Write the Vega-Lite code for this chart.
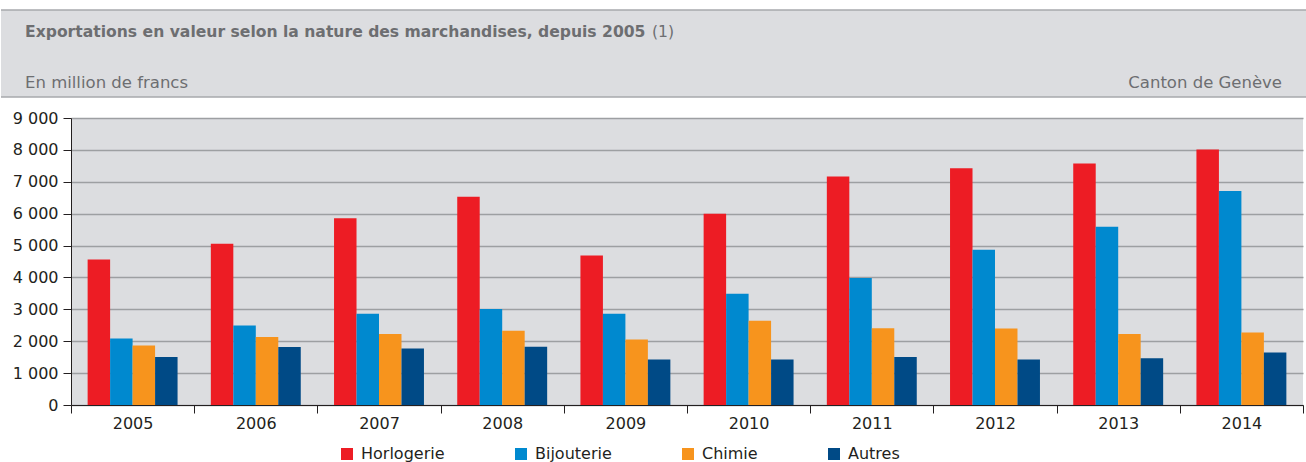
{
  "$schema": "https://vega.github.io/schema/vega-lite/v6.json",
  "padding": {"top": 9, "left": 0, "right": 0, "bottom": 0},
  "autosize": {"type": "pad"},
  "background": "white",
  "spacing": 12,
  "config": {
    "font": "DejaVu Sans",
    "view": {"stroke": null}
  },
  "vconcat": [
    {
      "width": 1236,
      "height": 87,
      "data": {"values": [{"titre": "Exportations en valeur selon la nature des marchandises, depuis 2005", "note": "(1)", "unite": "En million de francs", "canton": "Canton de Genève"}]},
      "layer": [
        {
          "mark": {"type": "rect", "color": "#dcdde0"},
          "encoding": {
            "x": {"datum": -0.05663, "type": "quantitative", "scale": {"domain": [0, 1], "nice": false, "zero": false}, "axis": null},
            "x2": {"datum": 1},
            "y": {"datum": 0, "type": "quantitative", "scale": {"domain": [0, 1], "nice": false}, "axis": null},
            "y2": {"datum": 1}
          }
        },
        {
          "mark": {"type": "rule", "color": "#a7a9ac", "strokeWidth": 1.5},
          "encoding": {
            "x": {"datum": -0.05663, "type": "quantitative", "axis": null},
            "x2": {"datum": 1},
            "y": {"datum": 1, "type": "quantitative", "axis": null}
          }
        },
        {
          "mark": {"type": "rule", "color": "#a7a9ac", "strokeWidth": 1.5},
          "encoding": {
            "x": {"datum": -0.05663, "type": "quantitative", "axis": null},
            "x2": {"datum": 1},
            "y": {"datum": 0, "type": "quantitative", "axis": null}
          }
        },
        {
          "mark": {"type": "text", "align": "left", "baseline": "alphabetic", "fontWeight": "bold", "fontSize": 15.6, "color": "#6d6e71", "dx": 24},
          "encoding": {
            "text": {"field": "titre"},
            "x": {"datum": -0.05663, "type": "quantitative", "axis": null},
            "y": {"datum": 0.69, "type": "quantitative", "axis": null}
          }
        },
        {
          "mark": {"type": "text", "align": "left", "baseline": "alphabetic", "fontSize": 15.6, "color": "#6d6e71", "dx": 651},
          "encoding": {
            "text": {"field": "note"},
            "x": {"datum": -0.05663, "type": "quantitative", "axis": null},
            "y": {"datum": 0.69, "type": "quantitative", "axis": null}
          }
        },
        {
          "mark": {"type": "text", "align": "left", "baseline": "alphabetic", "fontSize": 16.5, "color": "#6d6e71", "dx": 24},
          "encoding": {
            "text": {"field": "unite"},
            "x": {"datum": -0.05663, "type": "quantitative", "axis": null},
            "y": {"datum": 0.1, "type": "quantitative", "axis": null}
          }
        },
        {
          "mark": {"type": "text", "align": "right", "baseline": "alphabetic", "fontSize": 16.5, "color": "#6d6e71", "dx": -25},
          "encoding": {
            "text": {"field": "canton"},
            "x": {"datum": 1, "type": "quantitative", "axis": null},
            "y": {"datum": 0.1, "type": "quantitative", "axis": null}
          }
        }
      ]
    },
    {
      "width": 1232,
      "height": 287,
      "view": {"fill": "#dcdde0", "stroke": null},
      "data": {"values": [
        {"annee": "2005", "nature": "Horlogerie", "valeur": 4565},
        {"annee": "2005", "nature": "Bijouterie", "valeur": 2084},
        {"annee": "2005", "nature": "Chimie", "valeur": 1864},
        {"annee": "2005", "nature": "Autres", "valeur": 1508},
        {"annee": "2006", "nature": "Horlogerie", "valeur": 5058},
        {"annee": "2006", "nature": "Bijouterie", "valeur": 2492},
        {"annee": "2006", "nature": "Chimie", "valeur": 2136},
        {"annee": "2006", "nature": "Autres", "valeur": 1822},
        {"annee": "2007", "nature": "Horlogerie", "valeur": 5853},
        {"annee": "2007", "nature": "Bijouterie", "valeur": 2859},
        {"annee": "2007", "nature": "Chimie", "valeur": 2230},
        {"annee": "2007", "nature": "Autres", "valeur": 1770},
        {"annee": "2008", "nature": "Horlogerie", "valeur": 6534},
        {"annee": "2008", "nature": "Bijouterie", "valeur": 3010},
        {"annee": "2008", "nature": "Chimie", "valeur": 2330},
        {"annee": "2008", "nature": "Autres", "valeur": 1825},
        {"annee": "2009", "nature": "Horlogerie", "valeur": 4691},
        {"annee": "2009", "nature": "Bijouterie", "valeur": 2859},
        {"annee": "2009", "nature": "Chimie", "valeur": 2052},
        {"annee": "2009", "nature": "Autres", "valeur": 1424},
        {"annee": "2010", "nature": "Horlogerie", "valeur": 6000},
        {"annee": "2010", "nature": "Bijouterie", "valeur": 3487},
        {"annee": "2010", "nature": "Chimie", "valeur": 2639},
        {"annee": "2010", "nature": "Autres", "valeur": 1424},
        {"annee": "2011", "nature": "Horlogerie", "valeur": 7162},
        {"annee": "2011", "nature": "Bijouterie", "valeur": 3979},
        {"annee": "2011", "nature": "Chimie", "valeur": 2408},
        {"annee": "2011", "nature": "Autres", "valeur": 1508},
        {"annee": "2012", "nature": "Horlogerie", "valeur": 7424},
        {"annee": "2012", "nature": "Bijouterie", "valeur": 4869},
        {"annee": "2012", "nature": "Chimie", "valeur": 2398},
        {"annee": "2012", "nature": "Autres", "valeur": 1424},
        {"annee": "2013", "nature": "Horlogerie", "valeur": 7571},
        {"annee": "2013", "nature": "Bijouterie", "valeur": 5592},
        {"annee": "2013", "nature": "Chimie", "valeur": 2230},
        {"annee": "2013", "nature": "Autres", "valeur": 1466},
        {"annee": "2014", "nature": "Horlogerie", "valeur": 8010},
        {"annee": "2014", "nature": "Bijouterie", "valeur": 6712},
        {"annee": "2014", "nature": "Chimie", "valeur": 2272},
        {"annee": "2014", "nature": "Autres", "valeur": 1644}
      ]},
      "mark": {"type": "bar"},
      "encoding": {
        "x": {
          "field": "annee", "type": "nominal",
          "scale": {"paddingInner": 0, "paddingOuter": 0},
          "axis": {"title": null, "labelAngle": 0, "tickBand": "extent", "tickSize": 8, "tickColor": "#231f20", "domainColor": "#231f20", "labelFontSize": 16, "labelColor": "#231f20", "labelPadding": 2, "grid": false}
        },
        "xOffset": {
          "field": "nature", "type": "nominal",
          "sort": ["Horlogerie", "Bijouterie", "Chimie", "Autres"],
          "scale": {"paddingInner": 0, "paddingOuter": 0.74}
        },
        "y": {
          "field": "valeur", "type": "quantitative",
          "scale": {"domain": [0, 9000], "nice": false},
          "axis": {"title": null, "values": [0, 1000, 2000, 3000, 4000, 5000, 6000, 7000, 8000, 9000], "labelExpr": "replace(format(datum.value, ','), ',', ' ')", "tickSize": 8, "tickColor": "#231f20", "domainColor": "#231f20", "labelFontSize": 16, "labelColor": "#231f20", "labelPadding": 5, "gridColor": "#9d9fa2", "gridWidth": 1.5, "minExtent": 70}
        },
        "color": {
          "field": "nature", "type": "nominal",
          "scale": {"domain": ["Horlogerie", "Bijouterie", "Chimie", "Autres"], "range": ["#ed1c24", "#0089cf", "#f7941d", "#004a86"]},
          "legend": {"title": null, "orient": "none", "legendX": 268, "legendY": 436, "direction": "horizontal", "symbolType": "square", "symbolSize": 144, "symbolStrokeWidth": 0, "labelFontSize": 16, "labelColor": "#231f20", "labelOffset": 6, "columnPadding": 68}
        }
      }
    }
  ]
}
